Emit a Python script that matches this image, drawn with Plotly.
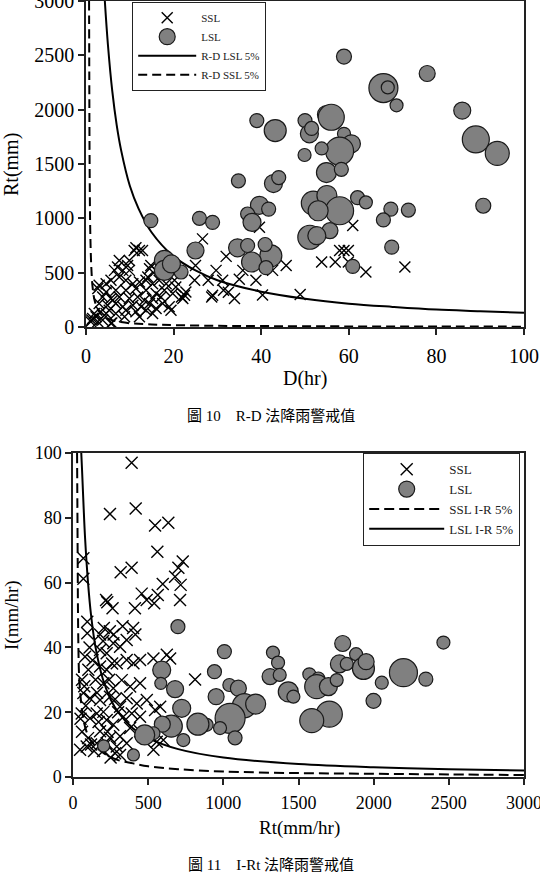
import plotly.graph_objects as go

# ---------------- Figure 10 (R-D) data ----------------
ssl1_D = [11.0, 12.2, 12.9, 11.4, 7.6, 9.5, 7.2, 8.4, 6.5, 9.9, 14.5, 16.0, 14.8, 3.0, 4.6, 5.7, 7.6, 9.1,
          10.7, 12.2, 13.7, 15.2, 16.7, 18.3, 20.2, 20.5, 17.9, 16.0, 13.7, 11.4, 9.1, 6.8, 4.6, 2.7, 3.8,
          5.7, 7.6, 9.9, 11.8, 13.3, 15.2, 17.1, 19.8, 22.5, 22.1, 3.0, 4.9, 6.8, 8.4, 10.7, 12.6, 14.5,
          17.5, 19.0, 19.4, 5.3, 9.1, 11.4, 6.8, 3.4, 2.3, 1.5, 2.7, 1.1, 3.8, 5.7, 1.9, 13.7, 15.2, 8.8,
          12.2, 16.0, 4.6, 6.1, 9.9, 17.5, 19.0, 20.5, 14.1, 5.9, 1.3,
          26.6, 39.6, 32.0, 25.0, 29.7, 45.7, 35.8, 42.6, 24.8, 27.9, 31.2, 35.0, 38.8, 28.9, 32.5, 33.9,
          40.3, 22.8, 21.8, 28.7, 31.4, 48.9,
          60.9, 53.8, 56.9, 57.9, 58.9, 59.9, 59.9, 63.9, 72.8]
ssl1_Rt = [704, 704, 704, 729, 613, 567, 552, 521, 521, 521, 537, 521, 567, 384, 399, 430, 460, 430,
           399, 415, 430, 399, 430, 399, 430, 369, 338, 308, 338, 354, 338, 338, 323, 354, 277,
           262, 277, 262, 277, 247, 262, 277, 308, 293, 262, 216, 201, 216, 186, 201, 186, 216,
           216, 186, 155, 155, 155, 140, 125, 140, 95, 79, 49, 49, 64, 34, 125, 155, 125, 95,
           95, 171, 125, 247, 613, 491, 537, 552, 460, 37, 65,
           811, 918, 650, 567, 521, 567, 521, 521, 430, 430, 430, 440, 430, 293, 320, 262,
           295, 323, 277, 277, 338, 299,
           933, 598, 598, 704, 704, 704, 598, 506, 552]

lsl1_D = [58.9, 67.9, 68.9, 70.9, 77.9, 85.9, 89.0, 93.9, 90.7,
          43.2, 50.0, 51.0, 51.5, 54.9, 56.0, 58.9, 60.6, 57.9, 53.8, 49.9, 54.9, 58.3,
          51.9, 55.0, 57.9, 53.0, 62.0,
          55.7, 51.1, 52.7, 63.9, 69.6, 73.6, 67.9, 69.8, 60.9, 42.2,
          39.0, 34.8, 42.8, 44.0,
          14.8, 25.9, 28.9, 25.0, 17.9, 17.9, 21.7, 34.6, 36.9, 39.6, 36.9, 41.7, 37.9, 40.9,
          37.8, 41.1, 19.5]
lsl1_Rt = [2489, 2199, 2205, 2040, 2333, 1992, 1726, 1598, 1116,
           1808, 1900, 1778, 1827, 1955, 1930, 1778, 1686, 1619, 1643, 1583, 1421, 1451,
           1140, 1210, 1070, 1070, 1190,
           887, 826, 840, 1147, 1085, 1076, 985, 735, 558, 655,
           1900, 1345, 1320, 1375,
           979, 1000, 963, 704, 613, 521, 506, 729, 750, 1120, 1040, 1085, 963, 759,
           598, 546, 580]
lsl1_size = [15, 29, 13, 13, 16, 17, 27, 24, 15,
             22, 14, 18, 14, 18, 26, 13, 18, 28, 13, 13, 20, 14,
             24, 20, 28, 20, 14,
             16, 24, 18, 13, 14, 14, 14, 14, 14, 22,
             14, 14, 18, 14,
             14, 14, 14, 17, 20, 20, 14, 18, 14, 18, 14, 14, 18, 14,
             20, 14, 18]

# threshold curves
rd_lsl_D = [4.3, 5, 6, 7, 8, 10, 12, 15, 20, 25, 30, 40, 50, 60, 70, 80, 90, 100]
rd_lsl_Rt = [3000, 2600, 2170, 1860, 1630, 1300, 1090, 870, 650, 520, 430, 325, 260, 215, 185, 160, 145, 130]
rd_ssl_D = [0.7, 0.75, 0.8, 0.9, 1.0, 1.2, 1.5, 2, 3, 4, 6, 8, 10, 15, 20, 30, 40, 60, 80, 100]
rd_ssl_Rt = [3000, 2300, 1700, 1100, 830, 560, 370, 240, 140, 98, 62, 45, 35, 23, 17, 11, 8.5, 5.6, 4.2, 3.3]

# ---------------- Figure 11 (I-Rt) data ----------------
ssl2_Rt = [390, 246, 417, 546, 634, 561, 317, 390, 730, 701, 679, 716, 712, 597, 564, 490, 540, 457, 412,
           220, 228, 263, 69, 69, 95, 95, 205, 245, 270, 330, 400, 415,
           80, 102, 69, 113, 58, 113, 47, 91, 180, 224, 268, 313, 357, 180, 224, 291, 357, 402, 446, 535,
           624, 646, 202, 268, 324, 380, 446, 180, 246, 313, 357, 424, 491, 546, 580, 812, 158, 202, 224,
           268, 335, 391, 446, 180, 246, 313, 380, 446, 158, 224, 291, 357, 313, 280, 535, 557, 601,
           60, 75, 85, 60, 100, 120, 140, 50, 110, 130, 150, 160, 180, 200, 240, 260, 280, 300, 200, 250,
           230, 170]
ssl2_I = [97, 81.2, 82.9, 77.6, 78.5, 69.5, 63.2, 64.6, 66.5, 64.6, 61.8, 59.3, 54.6, 59.6, 56.2, 54.6, 53.6,
          56.6, 52.1, 54.6, 53.9, 52.1, 67.5, 61.2, 47.9, 44.4, 46, 45, 44, 46.5, 46, 44,
          37.1, 33.1, 25.9, 24.3, 19.6, 18.1, 8.4, 9.4, 39.2, 38.2, 41.3, 40.2, 42.3, 34.1, 33.1, 35.1,
          36.1, 35.1, 36.1, 36.6, 37.7, 36.6, 28.9, 27.4, 29.9, 27.9, 28.9, 23.8, 24.8, 21.7, 24.3, 22.7,
          23.8, 20.7, 21.7, 30.1, 19.6, 20.1, 17.6, 16.1, 18.6, 19.6, 18.6, 14.1, 12.1, 12.6, 15.1, 14.1,
          10.4, 10.4, 9.4, 10.4, 6.8, 7.3, 8.4, 10.9, 11.4,
          30, 28, 22, 14, 12, 10, 8, 18, 40, 36, 30, 26, 44, 42, 30, 35, 24, 20, 8, 6, 14, 17]

lsl2_Rt = [698, 1007, 941, 590, 584, 679, 723, 952, 1040, 1100, 1140, 1215, 1045, 978, 1078, 889, 831,
           734, 654, 594, 535, 477, 402, 204, 1311, 1330, 1794, 2464, 1364, 1375, 1432, 1466, 1572,
           1632, 1621, 1699, 1754, 1772, 1821, 1883, 1932, 1950, 2054, 2198, 2347, 1999, 1705, 1588]
lsl2_I = [46.4, 38.7, 32.5, 33.0, 28.9, 27.1, 21.2, 24.8, 28.4, 27.4, 22.0, 22.5, 18.1, 15.1, 12.1, 16.1,
          16.3, 11.4, 15.7, 16.3, 13.5, 13.0, 6.8, 9.6, 31.0, 38.4, 41.2, 41.5, 35.3, 31.5, 26.3, 24.8,
          31.7, 30.4, 27.9, 27.9, 29.9, 34.9, 34.9, 37.9, 33.5, 35.6, 29.1, 32.2, 30.2, 23.5, 19.4, 17.4]
lsl2_size = [14, 14, 14, 18, 12, 17, 18, 16, 13, 16, 24, 20, 30, 13, 14, 13, 22,
             13, 22, 16, 13, 20, 12, 12, 16, 13, 16, 13, 13, 13, 20, 13, 13,
             13, 24, 18, 13, 18, 13, 13, 22, 16, 13, 28, 14, 15, 26, 24]

ir_ssl_Rt = [27, 29, 31, 33, 36, 40, 50, 65, 90, 130, 200, 300, 400, 500, 700, 1000, 1500, 2000, 2500, 3000]
ir_ssl_I = [100, 85, 68, 52, 40, 32, 25, 19, 14, 10.5, 7.5, 5.2, 4.2, 3.3, 2.4, 1.7, 1.2, 1.0, 0.8, 0.6]
ir_lsl_Rt = [55, 60, 70, 80, 100, 120, 150, 200, 250, 300, 400, 500, 700, 1000, 1500, 2000, 2500, 3000]
ir_lsl_I = [100, 95, 84, 74, 60, 50, 40, 30, 24, 20, 15, 12, 8.6, 6, 4, 3, 2.4, 2]

SERIF = "Liberation Serif, Times New Roman, serif"
CAP = "Liberation Serif, Noto Sans CJK TC, serif"

fig = go.Figure()

def xmark(sz):
    return dict(symbol="x-thin", size=sz, color="black", line=dict(width=1.4, color="black"))

def circ(sizes):
    return dict(symbol="circle", size=sizes, color="#808080", opacity=1,
                line=dict(width=1.2, color="#1a1a1a"))

# --- chart 1 traces ---
fig.add_trace(go.Scatter(x=rd_lsl_D, y=rd_lsl_Rt, mode="lines", name="R-D LSL 5%",
                         line=dict(color="black", width=2, shape="spline"),
                         xaxis="x", yaxis="y", legend="legend", legendrank=3))
fig.add_trace(go.Scatter(x=rd_ssl_D, y=rd_ssl_Rt, mode="lines", name="R-D SSL 5%",
                         line=dict(color="black", width=2, dash="9px,5px", shape="spline"),
                         xaxis="x", yaxis="y", legend="legend", legendrank=4))
fig.add_trace(go.Scatter(x=ssl1_D, y=ssl1_Rt, mode="markers", name="SSL", marker=xmark(11),
                         xaxis="x", yaxis="y", legend="legend", legendrank=1))
fig.add_trace(go.Scatter(x=lsl1_D, y=lsl1_Rt, mode="markers", name="LSL", marker=circ(lsl1_size),
                         xaxis="x", yaxis="y", legend="legend", legendrank=2))

# --- chart 2 traces ---
fig.add_trace(go.Scatter(x=ir_ssl_Rt, y=ir_ssl_I, mode="lines", name="SSL I-R 5%",
                         line=dict(color="black", width=2, dash="10px,5px", shape="spline"),
                         xaxis="x2", yaxis="y2", legend="legend2", legendrank=3))
fig.add_trace(go.Scatter(x=ir_lsl_Rt, y=ir_lsl_I, mode="lines", name="LSL I-R 5%",
                         line=dict(color="black", width=2, shape="spline"),
                         xaxis="x2", yaxis="y2", legend="legend2", legendrank=4))
fig.add_trace(go.Scatter(x=ssl2_Rt, y=ssl2_I, mode="markers", name="SSL", marker=xmark(12),
                         xaxis="x2", yaxis="y2", legend="legend2", legendrank=1))
fig.add_trace(go.Scatter(x=lsl2_Rt, y=lsl2_I, mode="markers", name="LSL", marker=circ(lsl2_size),
                         xaxis="x2", yaxis="y2", legend="legend2", legendrank=2))

W, H = 540, 888
def px_x(p):
    return p / W
def px_y(p):
    return 1 - p / H

axis_common = dict(showgrid=False, zeroline=False, showline=True, mirror=True,
                   linecolor="#222", linewidth=1.5, ticks="outside", ticklen=6,
                   tickwidth=1.5, tickcolor="#222", automargin=False,
                   ticklabeloverflow="allow")

fig.update_layout(
    width=W, height=H, margin=dict(l=0, r=0, t=0, b=0, autoexpand=False),
    paper_bgcolor="white", plot_bgcolor="white",
    xaxis=dict(domain=[px_x(86), px_x(524)], range=[0, 100], dtick=20, anchor="y",
               tickfont=dict(family=SERIF, size=20, color="black"), ticklabelstandoff=4,
               **axis_common),
    yaxis=dict(domain=[px_y(327), px_y(1)], range=[0, 3000], dtick=500, anchor="x",
               tickfont=dict(family=SERIF, size=20, color="black"), **axis_common),
    xaxis2=dict(domain=[px_x(73), px_x(524)], range=[0, 3000], dtick=500, anchor="y2",
                tickfont=dict(family=SERIF, size=18, color="black"), ticklabelstandoff=3,
                **axis_common),
    yaxis2=dict(domain=[px_y(777), px_y(453)], range=[0, 100], dtick=20, anchor="x2",
                tickfont=dict(family=SERIF, size=18, color="black"), **axis_common),
    legend=dict(x=px_x(132), y=px_y(2), xanchor="left", yanchor="top",
                bgcolor="white", bordercolor="#222", borderwidth=1.2,
                font=dict(family=SERIF, size=11, color="#222"), itemwidth=58,
                tracegroupgap=0, traceorder="normal"),
    legend2=dict(x=px_x(363), y=px_y(453), xanchor="left", yanchor="top",
                 bgcolor="white", bordercolor="#222", borderwidth=1.2,
                 font=dict(family=SERIF, size=13, color="#222"), itemwidth=75,
                 tracegroupgap=0, traceorder="normal"),
    showlegend=True,
)

annots = [
    dict(text="Rt(mm)", x=px_x(12), y=px_y(165), textangle=-90, font=dict(family=SERIF, size=20)),
    dict(text="D(hr)", x=px_x(305), y=px_y(378), font=dict(family=SERIF, size=20)),
    dict(text="圖 10　R-D 法降雨警戒值", x=px_x(271), y=px_y(416), font=dict(family=CAP, size=15)),
    dict(text="I(mm/hr)", x=px_x(12), y=px_y(615), textangle=-90, font=dict(family=SERIF, size=19)),
    dict(text="Rt(mm/hr)", x=px_x(299), y=px_y(828), font=dict(family=SERIF, size=19)),
    dict(text="圖 11　I-Rt 法降雨警戒值", x=px_x(271), y=px_y(865), font=dict(family=CAP, size=15)),
]
for a in annots:
    a.update(xref="paper", yref="paper", showarrow=False, xanchor="center", yanchor="middle")
    a["font"]["color"] = "black"
fig.update_layout(annotations=annots)

fig.write_html("out.html")
